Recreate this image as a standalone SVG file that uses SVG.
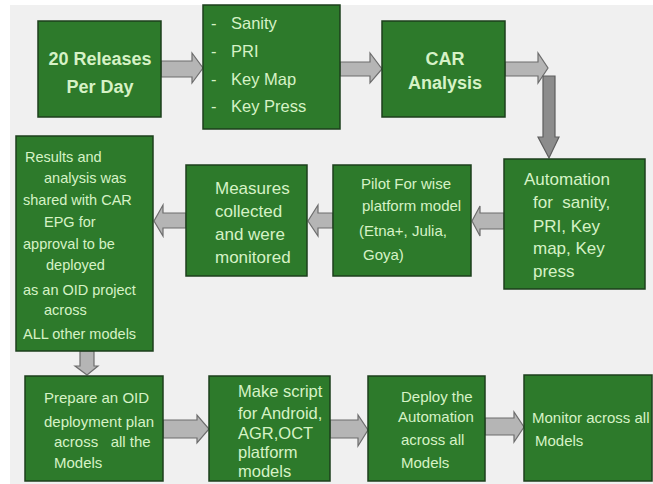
<svg xmlns="http://www.w3.org/2000/svg" width="653" height="484" viewBox="0 0 653 484">
<style>
.box{fill:#2d7a2b;stroke:#1c3f1c;stroke-width:1.5}
.t{font-family:"Liberation Sans",Arial,sans-serif;fill:#d6f2c6}
.b{font-weight:bold;font-size:18px}
.arr{fill:#b5b5b5;stroke:#6d6d6d;stroke-width:1.2}
.arrd{fill:#8c8c8c;stroke:#5e5e5e;stroke-width:1.2}
</style>
<rect x="0" y="0" width="653" height="484" fill="#ffffff"/>
<rect x="10" y="5" width="643" height="479" fill="#f0f0f0"/>
<g id="connectors">
<path class="arr" d="M161,61 H192 V53 L203,68 L192,83 V77 H161 Z"/>
<path class="arr" d="M340,62 H370 V53 L382,69 L370,83 V76 H340 Z"/>
<path class="arr" d="M505,62 H538 V53 L548,68 L538,83 V76 H505 Z"/>
<path class="arrd" d="M543,76 H555 V137 H559 L549,158 L538,137 H543 Z"/>
<path class="arr" d="M504,213 H480 V206 L472,221 L480,236 V229 H504 Z"/>
<path class="arr" d="M333,213 H318 V205 L308,221 L318,236 V228 H333 Z"/>
<path class="arr" d="M186,213 H163 V205 L154,221 L163,236 V228 H186 Z"/>
<path class="arr" d="M80,351 H94 V366 H98 L87,375 L75,366 H80 Z"/>
<path class="arr" d="M163,420 H197 V415 L209,429 L197,443 V438 H163 Z"/>
<path class="arr" d="M330,420 H358 V415 L368,430 L358,446 V438 H330 Z"/>
<path class="arr" d="M485,418 H514 V412 L524,427 L514,442 V435 H485 Z"/>
</g>
<g id="n1">
<rect class="box" x="38" y="21" width="123" height="96"/>
<text class="t b" x="100" y="65" text-anchor="middle">20 Releases</text>
<text class="t b" x="100" y="93" text-anchor="middle">Per Day</text>
</g>
<g id="n2">
<rect class="box" x="203" y="5" width="137" height="124"/>
<g class="t" font-size="16.5">
<text x="211" y="29">-</text><text x="231" y="29">Sanity</text>
<text x="211" y="57">-</text><text x="231" y="57">PRI</text>
<text x="211" y="85">-</text><text x="231" y="85">Key Map</text>
<text x="211" y="112">-</text><text x="231" y="112">Key Press</text>
</g>
</g>
<g id="n3">
<rect class="box" x="382" y="21" width="123" height="96"/>
<text class="t b" x="445" y="65" text-anchor="middle">CAR</text>
<text class="t b" x="445" y="89" text-anchor="middle">Analysis</text>
</g>
<g id="n4">
<rect class="box" x="504" y="159" width="141" height="130"/>
<g class="t" font-size="17">
<text x="524" y="185">Automation</text>
<text x="533" y="208" xml:space="preserve">for  sanity,</text>
<text x="533" y="232">PRI, Key</text>
<text x="533" y="254">map, Key</text>
<text x="533" y="277">press</text>
</g>
</g>
<g id="n5">
<rect class="box" x="333" y="165" width="138" height="111"/>
<g class="t" font-size="15">
<text x="361" y="189">Pilot For wise</text>
<text x="362" y="211">platform model</text>
<text x="359" y="236">(Etna+, Julia,</text>
<text x="363" y="260">Goya)</text>
</g>
</g>
<g id="n6">
<rect class="box" x="186" y="165" width="121" height="111"/>
<g class="t" font-size="17">
<text x="215" y="194">Measures</text>
<text x="215" y="217">collected</text>
<text x="215" y="240">and were</text>
<text x="215" y="263">monitored</text>
</g>
</g>
<g id="n7">
<rect class="box" x="16" y="136" width="137" height="215"/>
<g class="t" font-size="14.5">
<text x="25" y="162">Results and</text>
<text x="44" y="183">analysis was</text>
<text x="23" y="205">shared with CAR</text>
<text x="44" y="227">EPG for</text>
<text x="23" y="249">approval to be</text>
<text x="46" y="270">deployed</text>
<text x="23" y="295">as an OID project</text>
<text x="44" y="315">across</text>
<text x="23" y="339">ALL other models</text>
</g>
</g>
<g id="n8">
<rect class="box" x="25" y="376" width="138" height="105"/>
<g class="t" font-size="15">
<text x="44" y="403">Prepare an OID</text>
<text x="44" y="427">deployment plan</text>
<text x="54" y="447" xml:space="preserve">across   all the</text>
<text x="54" y="468">Models</text>
</g>
</g>
<g id="n9">
<rect class="box" x="209" y="376" width="121" height="105"/>
<g class="t" font-size="16.5">
<text x="238" y="397">Make script</text>
<text x="238" y="419">for Android,</text>
<text x="238" y="439">AGR,OCT</text>
<text x="238" y="458">platform</text>
<text x="238" y="477">models</text>
</g>
</g>
<g id="n10">
<rect class="box" x="368" y="376" width="117" height="105"/>
<g class="t" font-size="15">
<text x="401" y="402">Deploy the</text>
<text x="398" y="422">Automation</text>
<text x="401" y="445">across all</text>
<text x="401" y="468">Models</text>
</g>
</g>
<g id="n11">
<rect class="box" x="524" y="375" width="128" height="106"/>
<g class="t" font-size="15">
<text x="532" y="423">Monitor across all</text>
<text x="535" y="446">Models</text>
</g>
</g>
</svg>
